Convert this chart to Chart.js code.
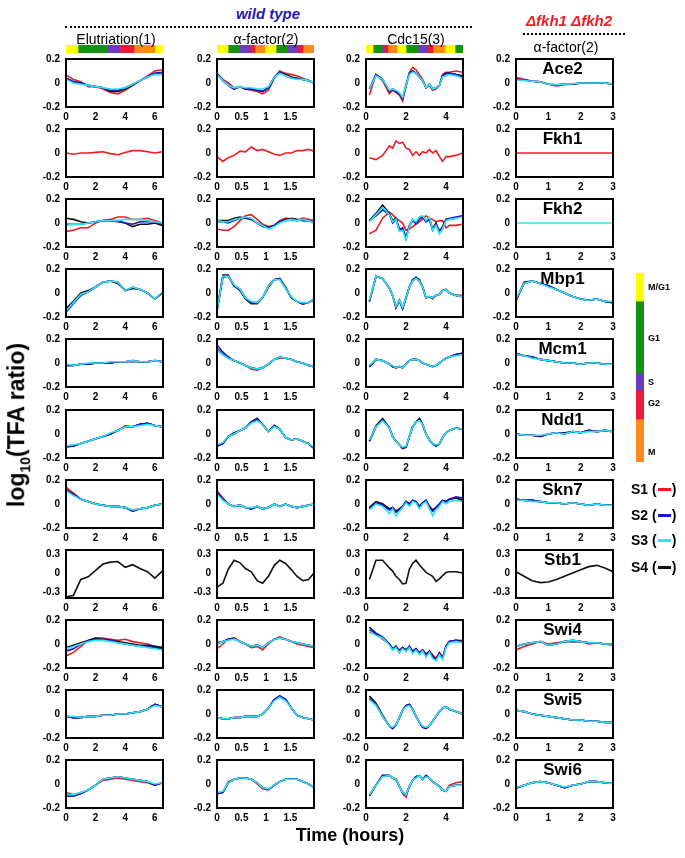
<!DOCTYPE html>
<html>
<head>
<meta charset="utf-8">
<script src="https://cdn.jsdelivr.net/npm/chart.js@4.4.1/dist/chart.umd.min.js"></script>
<style>
  body { margin: 0; background: #fff; }
  #fig { position: relative; width: 685px; height: 858px; font-family: "Liberation Sans", Arial, sans-serif; color: #000; }
  #fig canvas { position: absolute; }
  .t { position: absolute; white-space: nowrap; }
  .dots { position: absolute; border-top: 2px dotted #000; height: 0; }
</style>
</head>
<body>
<div id="fig"></div>
<script>
// time points (hours)
const eluT = [0, 0.5, 1, 1.5, 2, 2.5, 3, 3.5, 4, 4.5, 5, 5.5, 6, 6.5];
const alphaT = [0, 0.12, 0.23, 0.35, 0.47, 0.58, 0.7, 0.82, 0.93, 1.05, 1.17, 1.28, 1.4, 1.52, 1.63, 1.75, 1.87, 1.98];
const cdcT = [0.17, 0.5, 0.83, 1.17, 1.33, 1.5, 1.67, 1.83, 2, 2.17, 2.33, 2.5, 2.67, 2.83, 3, 3.17, 3.33, 3.5, 3.67, 3.83, 4, 4.17, 4.5, 4.83];
const mutT = [0, 0.25, 0.5, 0.75, 1, 1.25, 1.5, 1.75, 2, 2.25, 2.5, 2.75, 3];

const genes = ['Ace2', 'Fkh1', 'Fkh2', 'Mbp1', 'Mcm1', 'Ndd1', 'Skn7', 'Stb1', 'Swi4', 'Swi5', 'Swi6'];
const colTitles = ['Elutriation(1)', 'α-factor(2)', 'Cdc15(3)', 'α-factor(2)'];

// tick labels
const eluTicks = [0, 2, 4, 6];
const alphaTicks = [0, 0.5, 1, 1.5];
const cdcTicks = [0, 2, 4];
const mutTicks = [0, 1, 2, 3];
const yTicks = [-0.2, 0, 0.2];
const yTicksStb1 = [-0.3, 0, 0.3];

// cell-cycle phase bars
const eluPhases = ['M/G1', 'G1', 'S', 'G2', 'M', 'M/G1'];
const eluPhaseLen = [0.81, 1.96, 0.88, 0.95, 1.42, 0.54];
const alphaPhases = ['M/G1', 'G1', 'S', 'G2', 'M', 'M/G1', 'G1', 'S', 'G2', 'M'];
const alphaPhaseLen = [0.22, 0.22, 0.22, 0.10, 0.20, 0.22, 0.22, 0.20, 0.12, 0.22];
const cdcPhases = ['M/G1', 'G1', 'S', 'G2', 'M', 'M/G1', 'G1', 'S', 'G2', 'M', 'M/G1', 'G1'];
const cdcPhaseLen = [0.35, 0.45, 0.1, 0.2, 0.45, 0.45, 0.6, 0.45, 0.3, 0.6, 0.5, 0.4];
const cyclePhases = ['M/G1', 'G1', 'S', 'G2', 'M'];
const cyclePhaseLen = [28, 72, 17, 29, 43];

// ---- Ace2
const ace2EluS1 = [0.065, 0.03, 0.01, -0.03, -0.03, -0.05, -0.08, -0.09, -0.06, -0.02, 0.02, 0.06, 0.10, 0.11];
const ace2EluS2 = [0.04, 0.01, 0.0, -0.02, -0.03, -0.04, -0.06, -0.06, -0.04, -0.01, 0.02, 0.05, 0.08, 0.085];
const ace2EluS3 = [0.03, 0.0, -0.01, -0.02, -0.03, -0.04, -0.05, -0.05, -0.04, -0.01, 0.02, 0.05, 0.07, 0.07];
const ace2EluS4 = [0.04, 0.01, 0.0, -0.02, -0.03, -0.04, -0.07, -0.07, -0.05, -0.02, 0.02, 0.05, 0.08, 0.09];
const ace2AlpS1 = [0.08, 0.03, 0.0, -0.04, -0.03, -0.05, -0.06, -0.07, -0.09, -0.06, 0.04, 0.10, 0.08, 0.07, 0.06, 0.04, 0.02, 0.0];
const ace2AlpS2 = [0.08, 0.02, -0.02, -0.05, -0.03, -0.05, -0.05, -0.06, -0.07, -0.04, 0.05, 0.09, 0.06, 0.04, 0.04, 0.03, 0.02, 0.0];
const ace2AlpS3 = [0.07, 0.02, -0.02, -0.04, -0.03, -0.04, -0.04, -0.05, -0.05, -0.03, 0.05, 0.08, 0.06, 0.04, 0.03, 0.03, 0.02, 0.0];
const ace2AlpS4 = [0.08, 0.02, -0.02, -0.05, -0.03, -0.05, -0.05, -0.06, -0.07, -0.04, 0.05, 0.09, 0.07, 0.05, 0.04, 0.03, 0.02, 0.0];
const ace2CdcS1 = [-0.10, 0.07, 0.02, -0.09, -0.06, -0.08, -0.10, -0.15, -0.03, 0.09, 0.13, 0.11, 0.07, 0.03, -0.04, -0.02, -0.06, -0.05, -0.02, 0.07, 0.09, 0.09, 0.10, 0.09];
const ace2CdcS2 = [-0.05, 0.07, 0.03, -0.07, -0.05, -0.07, -0.09, -0.13, -0.02, 0.08, 0.10, 0.08, 0.05, 0.02, -0.04, -0.01, -0.05, -0.04, -0.02, 0.06, 0.08, 0.08, 0.07, 0.05];
const ace2CdcS3 = [-0.05, 0.06, 0.03, -0.06, -0.05, -0.06, -0.08, -0.12, -0.02, 0.07, 0.09, 0.08, 0.05, 0.02, -0.04, -0.01, -0.05, -0.04, -0.02, 0.05, 0.06, 0.07, 0.06, 0.04];
const ace2CdcS4 = [-0.05, 0.07, 0.03, -0.07, -0.05, -0.07, -0.09, -0.13, -0.02, 0.08, 0.10, 0.08, 0.05, 0.02, -0.04, -0.01, -0.05, -0.04, -0.02, 0.06, 0.08, 0.08, 0.07, 0.06];
const ace2MutS1 = [0.045, 0.03, 0.015, 0.01, -0.01, -0.025, -0.015, -0.01, 0, 0, 0, 0, -0.01];
const ace2MutS2 = [0.03, 0.025, 0.015, 0.01, -0.01, -0.015, -0.01, -0.01, 0, 0, 0, 0, -0.01];
const ace2MutS3 = [0.025, 0.02, 0.015, 0.01, -0.01, -0.015, -0.01, -0.005, 0, 0, 0, 0, -0.01];
const ace2MutS4 = [0.03, 0.025, 0.015, 0.01, -0.01, -0.015, -0.01, -0.01, 0, 0, 0, 0, -0.01];

// ---- Fkh1 (S1 only)
const fkh1EluS1 = [0, -0.01, 0, 0, 0.005, 0.01, -0.005, -0.015, 0.005, 0.02, 0.02, 0.01, 0.0, 0.01];
const fkh1AlpS1 = [-0.03, -0.07, -0.04, -0.02, 0.015, 0.01, 0.05, 0.02, 0.03, 0.01, -0.01, -0.02, 0, 0, 0.02, 0.02, 0.03, 0.015];
const fkh1CdcS1 = [-0.04, -0.055, -0.02, 0.06, 0.04, 0.10, 0.08, 0.09, 0.04, 0.03, -0.02, 0.01, -0.02, 0.01, 0.0, 0.03, 0.0, 0.02, -0.03, -0.07, -0.03, -0.03, -0.02, 0.0];
const fkh1MutS1 = [0, 0, 0, 0, 0, 0, 0, 0, 0, 0, 0, 0, 0];

// ---- Fkh2
const fkh2EluS1 = [-0.07, -0.06, -0.04, -0.04, 0.0, 0.02, 0.03, 0.05, 0.05, 0.03, 0.03, 0.04, 0.02, 0.0];
const fkh2EluS2 = [-0.01, -0.01, -0.01, 0.0, 0.01, 0.02, 0.02, 0.02, 0.0, -0.01, 0.01, 0.01, 0.01, -0.01];
const fkh2EluS3 = [-0.02, -0.01, -0.01, 0.0, 0.01, 0.02, 0.02, 0.02, 0.03, 0.03, 0.03, 0.02, 0.01, 0.0];
const fkh2EluS4 = [0.04, 0.03, 0.01, 0.0, 0.01, 0.02, 0.02, 0.01, 0.0, -0.03, -0.01, -0.01, 0.0, -0.02];
const fkh2AlpS1 = [-0.05, -0.06, -0.06, -0.03, 0.02, 0.06, 0.07, 0.03, -0.01, -0.03, -0.02, 0.02, 0.04, 0.03, 0.02, 0.04, 0.03, 0.02];
const fkh2AlpS2 = [0.01, 0.01, 0.0, 0.02, 0.04, 0.05, 0.03, 0.0, -0.03, -0.04, -0.02, 0.01, 0.02, 0.03, 0.02, 0.03, 0.02, 0.01];
const fkh2AlpS3 = [0.02, 0.01, 0.01, 0.03, 0.04, 0.05, 0.04, 0.0, -0.02, -0.05, -0.03, 0.0, 0.02, 0.03, 0.02, 0.03, 0.02, 0.0];
const fkh2AlpS4 = [0.02, 0.02, 0.02, 0.04, 0.05, 0.04, 0.03, 0.0, -0.02, -0.04, -0.02, 0.01, 0.03, 0.04, 0.03, 0.02, 0.02, 0.0];
const fkh2CdcS1 = [-0.09, -0.06, 0.04, 0.09, 0.07, 0.04, 0.02, 0.0, -0.06, -0.05, -0.03, -0.01, 0.01, 0.03, 0.06, 0.04, 0.03, 0.01, 0.02, 0.02, -0.04, -0.02, -0.02, -0.01];
const fkh2CdcS2 = [0.02, 0.06, 0.11, 0.07, 0.0, 0.03, -0.06, -0.04, -0.12, -0.03, 0.03, -0.01, 0.03, 0.05, 0.01, 0.03, -0.06, -0.01, -0.08, -0.04, 0.03, 0.04, 0.05, 0.06];
const fkh2CdcS3 = [0.01, 0.07, 0.13, 0.07, 0.01, 0.03, -0.07, -0.06, -0.14, -0.03, 0.03, 0.01, 0.05, 0.06, 0.02, 0.05, -0.06, -0.02, -0.09, -0.05, 0.02, 0.03, 0.04, 0.05];
const fkh2CdcS4 = [0.02, 0.08, 0.15, 0.08, 0.02, 0.04, -0.05, -0.05, -0.13, -0.02, 0.02, 0.0, 0.04, 0.05, 0.02, 0.04, -0.05, 0.0, -0.07, -0.03, 0.03, 0.03, 0.04, 0.06];
const fkh2MutS3 = [0, 0, 0, 0, 0, 0, 0, 0, 0, 0, 0, 0, 0];

// ---- Mbp1
const mbp1EluS1 = [-0.14, -0.08, -0.01, 0.01, 0.05, 0.09, 0.10, 0.09, 0.02, 0.04, 0.03, 0.0, -0.05, 0.0];
const mbp1EluS2 = [-0.16, -0.09, -0.02, 0.01, 0.05, 0.09, 0.10, 0.09, 0.02, 0.05, 0.03, 0.0, -0.05, 0.0];
const mbp1EluS3 = [-0.15, -0.08, -0.01, 0.01, 0.05, 0.09, 0.10, 0.09, 0.02, 0.05, 0.03, 0.0, -0.05, 0.01];
const mbp1EluS4 = [-0.13, -0.07, 0.0, 0.02, 0.05, 0.09, 0.10, 0.08, 0.02, 0.04, 0.03, 0.0, -0.05, 0.0];
const mbp1AlpS1 = [-0.15, 0.13, 0.14, 0.06, 0.03, -0.04, -0.08, -0.08, -0.04, 0.06, 0.11, 0.12, 0.04, -0.04, -0.07, -0.09, -0.08, -0.05];
const mbp1AlpS2 = [-0.15, 0.14, 0.14, 0.06, 0.03, -0.04, -0.08, -0.08, -0.04, 0.06, 0.11, 0.12, 0.04, -0.04, -0.07, -0.09, -0.08, -0.05];
const mbp1AlpS3 = [-0.14, 0.14, 0.14, 0.07, 0.03, -0.04, -0.07, -0.08, -0.04, 0.06, 0.11, 0.11, 0.04, -0.03, -0.07, -0.08, -0.08, -0.05];
const mbp1AlpS4 = [-0.14, 0.15, 0.15, 0.06, 0.02, -0.05, -0.09, -0.09, -0.04, 0.05, 0.11, 0.12, 0.05, -0.04, -0.07, -0.09, -0.08, -0.06];
const mbp1CdcS1 = [-0.07, 0.14, 0.12, 0.04, -0.02, -0.12, -0.06, -0.13, -0.04, 0.05, 0.10, 0.12, 0.10, 0.05, -0.04, -0.03, -0.05, -0.02, -0.01, 0.02, 0.03, 0.0, -0.02, -0.02];
const mbp1CdcS2 = [-0.07, 0.14, 0.12, 0.04, -0.02, -0.12, -0.06, -0.13, -0.04, 0.05, 0.10, 0.13, 0.10, 0.05, -0.04, -0.03, -0.04, -0.02, -0.01, 0.02, 0.03, 0.0, -0.02, -0.03];
const mbp1CdcS3 = [-0.06, 0.14, 0.12, 0.04, -0.02, -0.11, -0.06, -0.12, -0.04, 0.05, 0.10, 0.12, 0.10, 0.05, -0.04, -0.03, -0.04, -0.02, -0.01, 0.02, 0.03, 0.0, -0.02, -0.03];
const mbp1CdcS4 = [-0.07, 0.14, 0.12, 0.04, -0.02, -0.12, -0.06, -0.13, -0.04, 0.05, 0.11, 0.13, 0.11, 0.05, -0.04, -0.03, -0.04, -0.02, -0.01, 0.02, 0.03, 0.0, -0.02, -0.03];
const mbp1MutS1 = [-0.06, 0.08, 0.10, 0.08, 0.06, 0.03, 0.0, -0.03, -0.05, -0.06, -0.05, -0.07, -0.08];
const mbp1MutS2 = [-0.06, 0.08, 0.10, 0.08, 0.06, 0.03, 0.0, -0.03, -0.05, -0.06, -0.05, -0.07, -0.08];
const mbp1MutS3 = [-0.05, 0.08, 0.10, 0.08, 0.05, 0.03, 0.0, -0.03, -0.05, -0.06, -0.05, -0.07, -0.07];
const mbp1MutS4 = [-0.06, 0.09, 0.10, 0.08, 0.06, 0.03, 0.0, -0.03, -0.05, -0.06, -0.05, -0.07, -0.08];

// ---- Mcm1
const mcm1EluS1 = [-0.02, -0.02, -0.01, -0.01, 0.0, 0.0, 0.0, 0.01, 0.01, 0.02, 0.01, 0.01, 0.02, 0.01];
const mcm1EluS2 = [-0.02, -0.02, -0.01, -0.01, 0.0, 0.0, 0.0, 0.01, 0.01, 0.02, 0.01, 0.01, 0.02, 0.01];
const mcm1EluS3 = [-0.01, -0.02, -0.01, 0.0, 0.0, 0.0, 0.01, 0.01, 0.01, 0.02, 0.01, 0.01, 0.02, 0.01];
const mcm1EluS4 = [-0.02, -0.02, -0.01, -0.01, 0.0, 0.0, 0.0, 0.01, 0.01, 0.01, 0.01, 0.01, 0.02, 0.01];
const mcm1AlpS1 = [0.12, 0.08, 0.05, 0.02, 0.0, -0.02, -0.05, -0.06, -0.04, -0.01, 0.03, 0.04, 0.04, 0.03, 0.01, 0.0, -0.02, -0.03];
const mcm1AlpS2 = [0.15, 0.09, 0.05, 0.02, 0.0, -0.02, -0.04, -0.05, -0.04, -0.01, 0.03, 0.05, 0.04, 0.03, 0.01, 0.0, -0.02, -0.03];
const mcm1AlpS3 = [0.11, 0.07, 0.04, 0.02, 0.0, -0.02, -0.04, -0.05, -0.04, -0.01, 0.03, 0.05, 0.04, 0.03, 0.01, 0.0, -0.02, -0.03];
const mcm1AlpS4 = [0.11, 0.07, 0.04, 0.02, 0.0, -0.02, -0.04, -0.05, -0.04, -0.01, 0.03, 0.05, 0.04, 0.03, 0.01, 0.0, -0.02, -0.03];
const mcm1CdcS1 = [-0.03, 0.03, 0.02, -0.01, -0.03, -0.04, -0.03, -0.04, -0.01, 0.02, 0.03, 0.03, 0.02, 0.0, -0.01, -0.02, -0.03, -0.02, 0.0, 0.02, 0.04, 0.05, 0.07, 0.08];
const mcm1CdcS2 = [-0.03, 0.03, 0.02, -0.01, -0.03, -0.04, -0.03, -0.04, -0.01, 0.02, 0.03, 0.03, 0.02, 0.0, -0.01, -0.02, -0.03, -0.02, 0.0, 0.02, 0.04, 0.05, 0.07, 0.08];
const mcm1CdcS3 = [-0.02, 0.03, 0.02, -0.01, -0.02, -0.04, -0.03, -0.04, -0.01, 0.02, 0.03, 0.03, 0.02, 0.0, -0.01, -0.02, -0.03, -0.02, 0.0, 0.02, 0.04, 0.05, 0.06, 0.07];
const mcm1CdcS4 = [-0.03, 0.03, 0.02, -0.01, -0.03, -0.04, -0.03, -0.04, -0.01, 0.02, 0.03, 0.03, 0.02, 0.0, -0.01, -0.02, -0.03, -0.02, 0.0, 0.02, 0.04, 0.05, 0.07, 0.08];
const mcm1MutS1 = [0.07, 0.06, 0.05, 0.03, 0.02, 0.01, 0.0, 0.0, -0.01, 0.0, 0.0, -0.01, -0.01];
const mcm1MutS2 = [0.08, 0.06, 0.05, 0.03, 0.02, 0.01, 0.0, 0.0, -0.01, 0.0, 0.0, -0.01, -0.01];
const mcm1MutS3 = [0.07, 0.06, 0.04, 0.03, 0.02, 0.01, 0.0, 0.0, -0.01, 0.0, 0.0, -0.01, -0.01];
const mcm1MutS4 = [0.08, 0.06, 0.05, 0.03, 0.02, 0.01, 0.0, 0.0, -0.01, 0.0, 0.0, -0.01, -0.01];

// ---- Ndd1
const ndd1EluS1 = [-0.10, -0.10, -0.08, -0.06, -0.04, -0.02, 0.0, 0.03, 0.07, 0.06, 0.08, 0.09, 0.07, 0.06];
const ndd1EluS2 = [-0.11, -0.10, -0.08, -0.06, -0.04, -0.02, 0.0, 0.03, 0.06, 0.06, 0.08, 0.09, 0.07, 0.06];
const ndd1EluS3 = [-0.10, -0.09, -0.08, -0.06, -0.04, -0.02, 0.01, 0.03, 0.06, 0.06, 0.07, 0.08, 0.07, 0.06];
const ndd1EluS4 = [-0.10, -0.10, -0.08, -0.06, -0.04, -0.02, 0.0, 0.03, 0.06, 0.06, 0.08, 0.09, 0.07, 0.06];
const ndd1AlpS1 = [-0.10, -0.08, -0.02, 0.0, 0.03, 0.05, 0.10, 0.12, 0.08, 0.02, 0.07, 0.04, -0.03, -0.05, -0.04, -0.06, -0.08, -0.12];
const ndd1AlpS2 = [-0.10, -0.08, -0.02, 0.0, 0.03, 0.05, 0.10, 0.12, 0.08, 0.02, 0.07, 0.04, -0.03, -0.05, -0.04, -0.06, -0.08, -0.12];
const ndd1AlpS3 = [-0.09, -0.07, -0.02, 0.0, 0.03, 0.05, 0.09, 0.11, 0.08, 0.02, 0.06, 0.04, -0.03, -0.05, -0.04, -0.06, -0.08, -0.11];
const ndd1AlpS4 = [-0.10, -0.08, -0.02, 0.01, 0.03, 0.05, 0.10, 0.13, 0.08, 0.02, 0.07, 0.04, -0.03, -0.05, -0.04, -0.06, -0.08, -0.12];
const ndd1CdcS1 = [-0.06, 0.06, 0.12, 0.05, -0.02, -0.06, -0.09, -0.12, -0.11, -0.02, 0.06, 0.10, 0.12, 0.08, 0.0, -0.05, -0.08, -0.10, -0.08, -0.03, 0.01, 0.03, 0.05, 0.04];
const ndd1CdcS2 = [-0.06, 0.06, 0.12, 0.05, -0.02, -0.06, -0.09, -0.12, -0.11, -0.02, 0.06, 0.10, 0.12, 0.08, 0.0, -0.05, -0.08, -0.10, -0.08, -0.03, 0.01, 0.03, 0.05, 0.04];
const ndd1CdcS3 = [-0.05, 0.06, 0.11, 0.05, -0.02, -0.06, -0.09, -0.11, -0.10, -0.02, 0.06, 0.10, 0.11, 0.08, 0.0, -0.05, -0.08, -0.09, -0.08, -0.03, 0.01, 0.03, 0.05, 0.04];
const ndd1CdcS4 = [-0.06, 0.07, 0.13, 0.05, -0.02, -0.06, -0.09, -0.12, -0.11, -0.02, 0.06, 0.10, 0.13, 0.08, 0.0, -0.05, -0.08, -0.10, -0.08, -0.03, 0.01, 0.03, 0.05, 0.04];
const ndd1MutS1 = [0.0, -0.01, -0.01, -0.02, 0.0, 0.01, 0.0, 0.02, 0.01, 0.03, 0.02, 0.03, 0.02];
const ndd1MutS2 = [0.0, -0.01, -0.01, -0.02, 0.0, 0.01, 0.0, 0.02, 0.01, 0.03, 0.02, 0.03, 0.02];
const ndd1MutS3 = [0.0, -0.01, -0.01, -0.01, 0.0, 0.01, 0.0, 0.02, 0.01, 0.02, 0.02, 0.03, 0.02];
const ndd1MutS4 = [0.0, -0.01, -0.01, -0.02, 0.0, 0.01, 0.01, 0.02, 0.01, 0.03, 0.02, 0.03, 0.02];

// ---- Skn7
const skn7EluS1 = [0.14, 0.09, 0.04, 0.02, 0.0, -0.01, -0.02, -0.02, -0.03, -0.05, -0.04, -0.03, -0.01, 0.0];
const skn7EluS2 = [0.12, 0.08, 0.04, 0.02, 0.0, -0.01, -0.02, -0.02, -0.03, -0.06, -0.04, -0.03, -0.01, 0.0];
const skn7EluS3 = [0.11, 0.07, 0.04, 0.02, 0.0, -0.01, -0.02, -0.02, -0.03, -0.05, -0.04, -0.03, -0.01, 0.0];
const skn7EluS4 = [0.12, 0.08, 0.04, 0.02, 0.0, -0.01, -0.02, -0.02, -0.03, -0.06, -0.04, -0.03, -0.01, 0.0];
const skn7AlpS1 = [0.11, 0.05, 0.0, -0.02, -0.01, -0.03, -0.04, -0.02, -0.04, -0.03, 0.0, -0.02, 0.0, -0.02, -0.03, -0.02, -0.01, 0.0];
const skn7AlpS2 = [0.10, 0.04, 0.0, -0.02, -0.01, -0.03, -0.04, -0.02, -0.04, -0.03, 0.0, -0.02, 0.0, -0.02, -0.03, -0.02, -0.01, 0.0];
const skn7AlpS3 = [0.08, 0.03, 0.0, -0.02, -0.01, -0.03, -0.03, -0.02, -0.04, -0.03, 0.0, -0.02, 0.0, -0.02, -0.03, -0.02, -0.01, 0.0];
const skn7AlpS4 = [0.09, 0.04, 0.0, -0.02, -0.01, -0.03, -0.04, -0.02, -0.04, -0.03, 0.0, -0.02, 0.0, -0.02, -0.03, -0.02, -0.01, 0.0];
const skn7CdcS1 = [-0.03, 0.02, 0.0, -0.04, -0.03, -0.06, -0.04, -0.02, 0.02, 0.0, 0.03, 0.02, -0.02, 0.01, 0.03, -0.02, -0.05, -0.03, 0.0, 0.03, 0.02, 0.04, 0.05, 0.04];
const skn7CdcS2 = [-0.04, 0.01, -0.01, -0.05, -0.03, -0.07, -0.05, -0.02, 0.02, -0.01, 0.03, 0.02, -0.03, 0.01, 0.03, -0.03, -0.06, -0.03, 0.0, 0.03, 0.02, 0.04, 0.06, 0.05];
const skn7CdcS3 = [-0.05, 0.0, -0.02, -0.08, -0.04, -0.10, -0.06, -0.03, 0.01, -0.02, 0.02, 0.01, -0.04, 0.0, 0.02, -0.04, -0.10, -0.05, -0.02, 0.02, 0.0, 0.02, 0.03, 0.02];
const skn7CdcS4 = [-0.03, 0.02, 0.0, -0.04, -0.03, -0.06, -0.04, -0.02, 0.02, 0.0, 0.03, 0.02, -0.02, 0.01, 0.03, -0.02, -0.05, -0.03, 0.0, 0.03, 0.02, 0.04, 0.05, 0.03];
const skn7MutS1 = [0.04, 0.03, 0.03, 0.02, 0.01, 0.01, 0.0, 0.01, 0.0, -0.01, 0.0, -0.01, -0.01];
const skn7MutS2 = [0.04, 0.03, 0.03, 0.02, 0.01, 0.01, 0.0, 0.01, 0.0, -0.01, 0.0, -0.01, -0.01];
const skn7MutS3 = [0.03, 0.03, 0.02, 0.02, 0.01, 0.01, 0.0, 0.01, 0.0, -0.01, 0.0, -0.01, -0.01];
const skn7MutS4 = [0.04, 0.03, 0.03, 0.02, 0.01, 0.01, 0.0, 0.01, 0.0, -0.01, 0.0, -0.01, -0.01];

// ---- Stb1 (S4 only)
const stb1EluS4 = [-0.37, -0.35, -0.10, -0.06, 0.04, 0.14, 0.17, 0.18, 0.09, 0.13, 0.07, 0.02, -0.08, 0.03];
const stb1AlpS4 = [-0.22, -0.16, 0.06, 0.20, 0.16, 0.07, 0.02, -0.12, -0.16, -0.05, 0.12, 0.20, 0.15, 0.05, -0.05, -0.12, -0.10, 0.0];
const stb1CdcS4 = [-0.10, 0.20, 0.20, 0.08, 0.03, -0.05, -0.10, -0.17, -0.16, 0.06, 0.15, 0.20, 0.13, 0.07, 0.01, -0.02, -0.05, -0.13, -0.09, -0.04, 0.01, 0.02, 0.02, 0.0];
const stb1MutS4 = [0.02, -0.05, -0.12, -0.15, -0.14, -0.10, -0.05, 0.0, 0.05, 0.10, 0.12, 0.08, 0.02];

// ---- Swi4
const swi4EluS1 = [-0.10, -0.07, -0.02, 0.03, 0.05, 0.05, 0.04, 0.03, 0.04, 0.02, 0.01, 0.0, -0.02, -0.03];
const swi4EluS2 = [-0.06, -0.04, 0.0, 0.02, 0.04, 0.04, 0.03, 0.01, 0.0, -0.01, -0.02, -0.02, -0.03, -0.04];
const swi4EluS3 = [-0.04, -0.02, 0.0, 0.02, 0.03, 0.03, 0.02, 0.01, 0.0, -0.01, -0.02, -0.03, -0.04, -0.05];
const swi4EluS4 = [-0.03, -0.01, 0.01, 0.03, 0.05, 0.04, 0.03, 0.02, 0.01, 0.0, -0.01, -0.01, -0.02, -0.03];
const swi4AlpS1 = [-0.04, 0.0, 0.04, 0.05, 0.02, 0.0, -0.03, -0.02, -0.05, 0.0, 0.04, 0.06, 0.04, 0.02, 0.0, -0.01, -0.02, -0.03];
const swi4AlpS2 = [0.0, 0.02, 0.04, 0.04, 0.02, 0.0, -0.02, -0.01, -0.03, 0.01, 0.04, 0.05, 0.04, 0.02, 0.01, 0.0, -0.01, -0.02];
const swi4AlpS3 = [0.0, 0.02, 0.03, 0.04, 0.02, 0.0, -0.02, -0.01, -0.03, 0.01, 0.04, 0.05, 0.04, 0.02, 0.01, 0.0, -0.01, -0.02];
const swi4AlpS4 = [0.01, 0.02, 0.04, 0.05, 0.02, 0.0, -0.02, -0.01, -0.03, 0.01, 0.04, 0.05, 0.04, 0.02, 0.01, 0.0, -0.01, -0.02];
const swi4CdcS1 = [0.10, 0.08, 0.04, 0.0, -0.04, -0.02, -0.05, -0.03, -0.05, -0.03, -0.06, -0.04, -0.07, -0.05, -0.08, -0.06, -0.09, -0.12, -0.07, -0.11, -0.02, 0.02, 0.03, 0.03];
const swi4CdcS2 = [0.14, 0.09, 0.06, 0.0, -0.05, -0.02, -0.07, -0.03, -0.06, -0.02, -0.07, -0.04, -0.08, -0.05, -0.10, -0.06, -0.11, -0.13, -0.08, -0.12, -0.02, 0.02, 0.03, 0.01];
const swi4CdcS3 = [0.11, 0.07, 0.05, -0.01, -0.05, -0.03, -0.07, -0.04, -0.06, -0.03, -0.08, -0.05, -0.09, -0.06, -0.11, -0.07, -0.12, -0.14, -0.09, -0.13, -0.03, 0.01, 0.02, 0.01];
const swi4CdcS4 = [0.12, 0.08, 0.05, 0.0, -0.04, -0.02, -0.06, -0.03, -0.05, -0.02, -0.06, -0.04, -0.08, -0.05, -0.09, -0.06, -0.10, -0.13, -0.08, -0.12, -0.02, 0.02, 0.03, 0.02];
const swi4MutS1 = [-0.05, -0.02, 0.0, 0.02, 0.0, 0.01, 0.02, 0.03, 0.02, 0.0, 0.01, 0.0, -0.01];
const swi4MutS2 = [-0.02, 0.0, 0.01, 0.02, -0.01, 0.0, 0.02, 0.03, 0.02, 0.01, 0.01, 0.0, 0.0];
const swi4MutS3 = [-0.02, 0.0, 0.01, 0.02, -0.01, 0.0, 0.02, 0.03, 0.02, 0.01, 0.01, 0.0, 0.0];
const swi4MutS4 = [-0.02, 0.0, 0.01, 0.02, -0.01, 0.0, 0.02, 0.02, 0.02, 0.01, 0.01, 0.0, 0.0];

// ---- Swi5
const swi5EluS1 = [-0.02, -0.03, -0.03, -0.02, -0.02, -0.01, -0.01, 0.0, 0.0, 0.01, 0.02, 0.04, 0.08, 0.06];
const swi5EluS2 = [-0.02, -0.03, -0.03, -0.02, -0.02, -0.01, -0.01, 0.0, 0.0, 0.01, 0.02, 0.04, 0.08, 0.06];
const swi5EluS3 = [-0.02, -0.02, -0.03, -0.02, -0.02, -0.01, -0.01, 0.0, 0.0, 0.01, 0.02, 0.04, 0.07, 0.06];
const swi5EluS4 = [-0.02, -0.03, -0.03, -0.02, -0.02, -0.01, -0.01, 0.0, 0.0, 0.01, 0.02, 0.04, 0.08, 0.06];
const swi5AlpS1 = [-0.03, -0.04, -0.04, -0.03, -0.03, -0.02, -0.02, -0.02, 0.0, 0.05, 0.12, 0.15, 0.12, 0.05, -0.01, -0.03, -0.04, -0.05];
const swi5AlpS2 = [-0.03, -0.04, -0.04, -0.03, -0.03, -0.02, -0.02, -0.02, 0.0, 0.05, 0.12, 0.15, 0.12, 0.05, -0.01, -0.03, -0.04, -0.05];
const swi5AlpS3 = [-0.03, -0.04, -0.04, -0.03, -0.03, -0.02, -0.02, -0.02, 0.0, 0.05, 0.11, 0.14, 0.11, 0.05, -0.01, -0.03, -0.04, -0.05];
const swi5AlpS4 = [-0.03, -0.04, -0.04, -0.03, -0.03, -0.02, -0.02, -0.02, 0.0, 0.05, 0.12, 0.15, 0.12, 0.05, -0.01, -0.03, -0.04, -0.05];
const swi5CdcS1 = [0.13, 0.08, -0.02, -0.10, -0.12, -0.09, -0.03, 0.03, 0.07, 0.08, 0.04, -0.02, -0.07, -0.11, -0.12, -0.10, -0.06, -0.02, 0.02, 0.05, 0.06, 0.04, 0.02, 0.0];
const swi5CdcS2 = [0.13, 0.08, -0.02, -0.10, -0.12, -0.09, -0.03, 0.03, 0.07, 0.08, 0.04, -0.02, -0.07, -0.11, -0.12, -0.10, -0.06, -0.02, 0.02, 0.05, 0.06, 0.04, 0.02, 0.0];
const swi5CdcS3 = [0.12, 0.07, -0.02, -0.10, -0.11, -0.09, -0.03, 0.03, 0.06, 0.07, 0.04, -0.02, -0.07, -0.10, -0.11, -0.10, -0.06, -0.02, 0.02, 0.05, 0.06, 0.04, 0.02, 0.0];
const swi5CdcS4 = [0.15, 0.09, -0.01, -0.10, -0.12, -0.09, -0.03, 0.03, 0.07, 0.08, 0.04, -0.02, -0.07, -0.11, -0.12, -0.10, -0.06, -0.02, 0.02, 0.05, 0.06, 0.04, 0.02, 0.0];
const swi5MutS1 = [0.03, 0.02, 0.0, -0.01, -0.02, -0.03, -0.04, -0.05, -0.05, -0.06, -0.06, -0.07, -0.07];
const swi5MutS2 = [0.03, 0.02, 0.0, -0.01, -0.02, -0.03, -0.04, -0.05, -0.05, -0.06, -0.06, -0.07, -0.07];
const swi5MutS3 = [0.03, 0.02, 0.0, -0.01, -0.02, -0.03, -0.04, -0.05, -0.05, -0.06, -0.06, -0.07, -0.07];
const swi5MutS4 = [0.03, 0.02, 0.0, -0.01, -0.02, -0.03, -0.04, -0.05, -0.05, -0.06, -0.06, -0.07, -0.07];

// ---- Swi6
const swi6EluS1 = [-0.07, -0.09, -0.07, -0.05, -0.01, 0.03, 0.04, 0.05, 0.04, 0.03, 0.02, 0.01, -0.01, 0.01];
const swi6EluS2 = [-0.10, -0.10, -0.08, -0.05, -0.01, 0.04, 0.05, 0.06, 0.05, 0.04, 0.03, 0.02, -0.01, 0.01];
const swi6EluS3 = [-0.09, -0.09, -0.07, -0.05, -0.01, 0.04, 0.05, 0.06, 0.05, 0.04, 0.03, 0.02, 0.0, 0.01];
const swi6EluS4 = [-0.10, -0.10, -0.08, -0.05, -0.01, 0.04, 0.05, 0.06, 0.05, 0.04, 0.03, 0.02, -0.01, 0.01];
const swi6AlpS1 = [-0.08, -0.07, 0.02, 0.04, 0.05, 0.05, 0.04, 0.0, -0.04, -0.05, -0.01, 0.02, 0.04, 0.04, 0.04, 0.02, 0.0, -0.03];
const swi6AlpS2 = [-0.08, -0.07, 0.01, 0.04, 0.05, 0.05, 0.04, 0.01, -0.03, -0.045, -0.01, 0.02, 0.04, 0.04, 0.04, 0.02, 0.0, -0.03];
const swi6AlpS3 = [-0.07, -0.06, 0.01, 0.04, 0.05, 0.05, 0.04, 0.01, -0.03, -0.04, -0.01, 0.02, 0.04, 0.04, 0.04, 0.02, 0.0, -0.03];
const swi6AlpS4 = [-0.08, -0.07, 0.01, 0.04, 0.05, 0.05, 0.04, 0.01, -0.03, -0.045, -0.01, 0.02, 0.04, 0.04, 0.04, 0.02, 0.0, -0.03];
const swi6CdcS1 = [-0.09, -0.01, 0.07, 0.07, 0.05, 0.04, -0.02, -0.08, -0.11, -0.02, 0.03, 0.06, 0.07, 0.04, 0.07, 0.05, 0.02, 0.0, -0.02, -0.05, -0.06, -0.01, 0.01, 0.02];
const swi6CdcS2 = [-0.095, -0.01, 0.07, 0.07, 0.05, 0.04, -0.02, -0.07, -0.09, -0.02, 0.03, 0.06, 0.07, 0.04, 0.07, 0.05, 0.02, 0.0, -0.02, -0.05, -0.06, -0.02, -0.01, -0.01];
const swi6CdcS3 = [-0.09, -0.01, 0.06, 0.07, 0.05, 0.04, -0.02, -0.07, -0.09, -0.02, 0.03, 0.05, 0.07, 0.04, 0.06, 0.05, 0.02, 0.0, -0.02, -0.05, -0.06, -0.02, -0.01, -0.01];
const swi6CdcS4 = [-0.10, -0.01, 0.07, 0.07, 0.05, 0.04, -0.02, -0.07, -0.09, -0.02, 0.03, 0.06, 0.07, 0.04, 0.07, 0.05, 0.02, 0.0, -0.02, -0.05, -0.06, -0.02, -0.01, -0.01];
const swi6MutS1 = [-0.03, -0.01, 0.01, 0.02, 0.01, -0.01, -0.03, -0.01, 0.0, 0.02, 0.02, 0.01, 0.005];
const swi6MutS2 = [-0.035, -0.01, 0.01, 0.02, 0.01, -0.01, -0.03, -0.01, 0.0, 0.02, 0.02, 0.01, 0.005];
const swi6MutS3 = [-0.03, -0.01, 0.01, 0.02, 0.01, -0.01, -0.025, -0.01, 0.0, 0.02, 0.02, 0.01, 0.005];
const swi6MutS4 = [-0.035, -0.01, 0.01, 0.02, 0.01, -0.01, -0.03, -0.01, 0.0, 0.02, 0.02, 0.01, 0.005];

// ---------------------------------------------------------------
const seriesColors = ['#ee1c24', '#1414d2', '#2ee6f2', '#111111']; // S1..S4
const phaseColor = { 'M/G1': '#ffff00', 'G1': '#129412', 'S': '#6a3cc4', 'G2': '#ea1a3c', 'M': '#ff8a1a' };

const cols = [
  { t: eluT, max: 6.55, ticks: eluTicks },
  { t: alphaT, max: 1.98, ticks: alphaTicks },
  { t: cdcT, max: 4.85, ticks: cdcTicks },
  { t: mutT, max: 3, ticks: mutTicks }
];
const colLeft = [66, 217, 366, 516];
const plotW = 97, plotH = 52;
const rowTop = r => 55 + r * 70.1;

const panelData = [
  [[ace2EluS1, ace2EluS2, ace2EluS3, ace2EluS4], [ace2AlpS1, ace2AlpS2, ace2AlpS3, ace2AlpS4], [ace2CdcS1, ace2CdcS2, ace2CdcS3, ace2CdcS4], [ace2MutS1, ace2MutS2, ace2MutS3, ace2MutS4]],
  [[fkh1EluS1, null, null, null], [fkh1AlpS1, null, null, null], [fkh1CdcS1, null, null, null], [fkh1MutS1, null, null, null]],
  [[fkh2EluS1, fkh2EluS2, fkh2EluS3, fkh2EluS4], [fkh2AlpS1, fkh2AlpS2, fkh2AlpS3, fkh2AlpS4], [fkh2CdcS1, fkh2CdcS2, fkh2CdcS3, fkh2CdcS4], [null, null, fkh2MutS3, null]],
  [[mbp1EluS1, mbp1EluS2, mbp1EluS3, mbp1EluS4], [mbp1AlpS1, mbp1AlpS2, mbp1AlpS3, mbp1AlpS4], [mbp1CdcS1, mbp1CdcS2, mbp1CdcS3, mbp1CdcS4], [mbp1MutS1, mbp1MutS2, mbp1MutS3, mbp1MutS4]],
  [[mcm1EluS1, mcm1EluS2, mcm1EluS3, mcm1EluS4], [mcm1AlpS1, mcm1AlpS2, mcm1AlpS3, mcm1AlpS4], [mcm1CdcS1, mcm1CdcS2, mcm1CdcS3, mcm1CdcS4], [mcm1MutS1, mcm1MutS2, mcm1MutS3, mcm1MutS4]],
  [[ndd1EluS1, ndd1EluS2, ndd1EluS3, ndd1EluS4], [ndd1AlpS1, ndd1AlpS2, ndd1AlpS3, ndd1AlpS4], [ndd1CdcS1, ndd1CdcS2, ndd1CdcS3, ndd1CdcS4], [ndd1MutS1, ndd1MutS2, ndd1MutS3, ndd1MutS4]],
  [[skn7EluS1, skn7EluS2, skn7EluS3, skn7EluS4], [skn7AlpS1, skn7AlpS2, skn7AlpS3, skn7AlpS4], [skn7CdcS1, skn7CdcS2, skn7CdcS3, skn7CdcS4], [skn7MutS1, skn7MutS2, skn7MutS3, skn7MutS4]],
  [[null, null, null, stb1EluS4], [null, null, null, stb1AlpS4], [null, null, null, stb1CdcS4], [null, null, null, stb1MutS4]],
  [[swi4EluS1, swi4EluS2, swi4EluS3, swi4EluS4], [swi4AlpS1, swi4AlpS2, swi4AlpS3, swi4AlpS4], [swi4CdcS1, swi4CdcS2, swi4CdcS3, swi4CdcS4], [swi4MutS1, swi4MutS2, swi4MutS3, swi4MutS4]],
  [[swi5EluS1, swi5EluS2, swi5EluS3, swi5EluS4], [swi5AlpS1, swi5AlpS2, swi5AlpS3, swi5AlpS4], [swi5CdcS1, swi5CdcS2, swi5CdcS3, swi5CdcS4], [swi5MutS1, swi5MutS2, swi5MutS3, swi5MutS4]],
  [[swi6EluS1, swi6EluS2, swi6EluS3, swi6EluS4], [swi6AlpS1, swi6AlpS2, swi6AlpS3, swi6AlpS4], [swi6CdcS1, swi6CdcS2, swi6CdcS3, swi6CdcS4], [swi6MutS1, swi6MutS2, swi6MutS3, swi6MutS4]]
];

const fig = document.getElementById('fig');
const tickFont = { family: '"Liberation Sans", Arial, sans-serif', size: 10, weight: 'bold' };

const frame = {
  id: 'frame',
  afterDatasetsDraw(chart) {
    const a = chart.chartArea, ctx = chart.ctx;
    ctx.save();
    ctx.strokeStyle = '#000';
    ctx.lineWidth = 2;
    ctx.strokeRect(a.left, a.top, a.right - a.left, a.bottom - a.top);
    ctx.restore();
  }
};

function addCanvas(left, top, w, h) {
  const c = document.createElement('canvas');
  c.width = w; c.height = h;
  c.style.left = left + 'px'; c.style.top = top + 'px';
  c.style.width = w + 'px'; c.style.height = h + 'px';
  fig.appendChild(c);
  return c;
}

function addText(txt, x, y, css, anchor) {
  const d = document.createElement('div');
  d.className = 't';
  d.innerHTML = txt;
  d.style.cssText += css;
  d.style.left = x + 'px';
  d.style.top = y + 'px';
  d.style.transform = anchor || 'translate(-50%,-50%)';
  fig.appendChild(d);
  return d;
}

const YW = 34, XH = 20, PT = 8, PR = 10;

function drawPanel(r, c) {
  const col = cols[c];
  const isStb1 = genes[r] === 'Stb1';
  const sets = [];
  // draw order: cyan on top, then blue, black, red
  [2, 1, 3, 0].forEach(k => {
    const vals = panelData[r][c][k];
    if (!vals) return;
    sets.push({
      data: col.t.map((t, i) => ({ x: t, y: vals[i] })),
      borderColor: seriesColors[k],
      borderWidth: 1.6,
      pointRadius: 0,
      tension: 0,
      fill: false
    });
  });
  const yt = isStb1 ? yTicksStb1 : yTicks;
  const cv = addCanvas(colLeft[c] - YW, rowTop(r) - PT, YW + plotW + PR, PT + plotH + XH);
  new Chart(cv, {
    type: 'line',
    data: { datasets: sets },
    options: {
      responsive: false,
      animation: false,
      events: [],
      layout: { padding: { left: 0, right: PR, top: PT, bottom: 0 } },
      plugins: { legend: { display: false }, tooltip: { enabled: false } },
      scales: {
        x: {
          type: 'linear', min: 0, max: col.max,
          grid: { display: false, drawTicks: false }, border: { display: false },
          ticks: { font: tickFont, color: '#000', padding: 4, maxRotation: 0, autoSkip: false, callback: v => String(v) },
          afterBuildTicks: s => { s.ticks = col.ticks.map(v => ({ value: v })); },
          afterFit: s => { s.height = XH; }
        },
        y: {
          type: 'linear',
          min: isStb1 ? -0.39 : -0.2, max: isStb1 ? 0.36 : 0.2,
          grid: { display: false, drawTicks: false }, border: { display: false },
          ticks: { font: tickFont, color: '#000', padding: 6, autoSkip: false, callback: v => String(v) },
          afterBuildTicks: s => { s.ticks = yt.map(v => ({ value: v })); },
          afterFit: s => { s.width = YW; }
        }
      }
    },
    plugins: [frame]
  });
  if (c === 3) {
    addText(genes[r], colLeft[3] + plotW / 2 - 2, rowTop(r) + 14, 'font-size:17px;font-weight:bold;');
  }
}

function phaseBar(left, top, w, h, phases, lens, vertical) {
  const cv = addCanvas(left, top, w, h);
  const total = lens.reduce((a, b) => a + b, 0);
  new Chart(cv, {
    type: 'bar',
    data: {
      labels: ['phase'],
      datasets: phases.map((p, i) => ({
        data: [lens[i]], backgroundColor: phaseColor[p], borderWidth: 0,
        barPercentage: 1, categoryPercentage: 1
      }))
    },
    options: {
      indexAxis: vertical ? 'x' : 'y',
      responsive: false, animation: false, events: [],
      layout: { padding: 0 },
      plugins: { legend: { display: false }, tooltip: { enabled: false } },
      scales: {
        x: vertical ? { stacked: true, display: false } : { stacked: true, display: false, min: 0, max: total },
        y: vertical ? { stacked: true, display: false, min: 0, max: total, reverse: true } : { stacked: true, display: false }
      }
    }
  });
}

for (let r = 0; r < genes.length; r++) for (let c = 0; c < 4; c++) drawPanel(r, c);

// phase bars above the wild-type columns
phaseBar(colLeft[0], 45, plotW, 8, eluPhases, eluPhaseLen);
phaseBar(colLeft[1], 45, plotW, 8, alphaPhases, alphaPhaseLen);
phaseBar(colLeft[2], 45, plotW, 8, cdcPhases, cdcPhaseLen);

// headers
addText('wild type', 268, 13, 'font-size:15px;font-weight:bold;font-style:italic;color:#1c1cb4;');
const d1 = document.createElement('div'); d1.className = 'dots';
d1.style.cssText += 'left:65px;top:26px;width:407px;'; fig.appendChild(d1);
addText('Δ<i>fkh1</i> Δ<i>fkh2</i>', 569, 20, 'font-size:15px;font-weight:bold;font-style:italic;color:#ee1c24;');
const d2 = document.createElement('div'); d2.className = 'dots';
d2.style.cssText += 'left:523px;top:33px;width:102px;'; fig.appendChild(d2);
addText(colTitles[0], 116, 39, 'font-size:14px;');
addText(colTitles[1], 266, 39, 'font-size:14px;');
addText(colTitles[2], 416, 39, 'font-size:14px;');
addText(colTitles[3], 566, 47, 'font-size:14px;');

// axis titles
addText('log<sub style="font-size:14px">10</sub>(TFA ratio)', 18, 425, 'font-size:23px;font-weight:bold;', 'translate(-50%,-50%) rotate(-90deg)');
addText('Time (hours)', 350, 835, 'font-size:18px;font-weight:bold;');

// phase legend
phaseBar(636, 273, 8, 189, cyclePhases, cyclePhaseLen, true);
const phaseLabelY = [287, 338, 382, 403, 452];
cyclePhases.forEach((p, i) => addText(p, 648, phaseLabelY[i], 'font-size:9px;font-weight:bold;', 'translate(0,-50%)'));

// series legend
const sNames = ['S1', 'S2', 'S3', 'S4'];
const sY = [489, 515, 540, 567];
sNames.forEach((s, i) => {
  addText(s + ' (<span style="display:inline-block;width:13px;height:3px;background:' + seriesColors[i] +
    ';vertical-align:middle;margin:0 1px 2px 1px"></span>)', 631, sY[i], 'font-size:14px;font-weight:bold;', 'translate(0,-50%)');
});
</script>
</body>
</html>
